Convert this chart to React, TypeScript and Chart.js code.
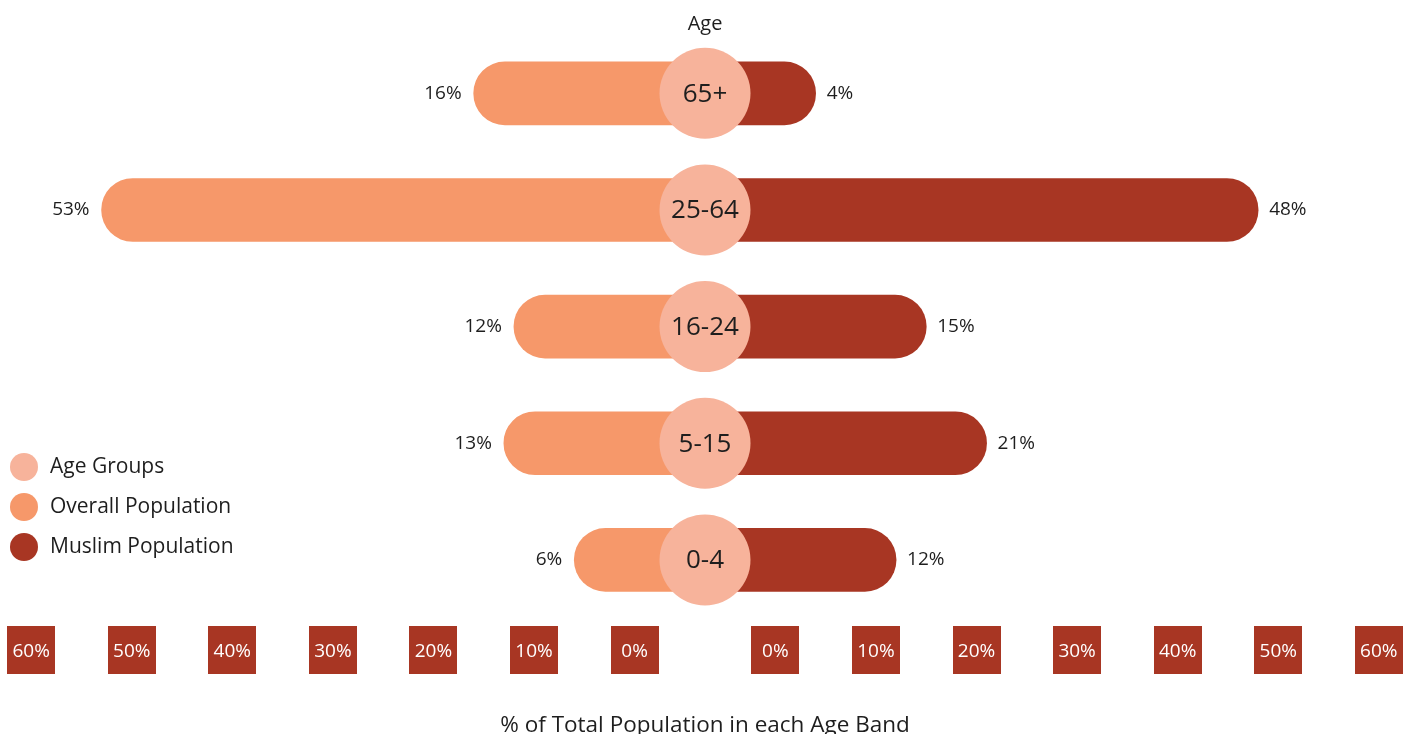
import React, { useEffect, useRef } from 'react';
import { Chart, registerables } from 'chart.js';

Chart.register(...registerables);

const categories = ['65+', '25-64', '16-24', '5-15', '0-4'];
const overallPopulation = [16, 53, 12, 13, 6];
const muslimPopulation = [4, 48, 15, 21, 12];
const tickPercents = [0, 10, 20, 30, 40, 50, 60];
const legendLabels = ['Age Groups', 'Overall Population', 'Muslim Population'];
const axisTitle = '% of Total Population in each Age Band';
const topTitle = 'Age';

const CENTER_GAP = 7;
const COLORS = {
  age: '#F7B39B',
  overall: '#F6986A',
  muslim: '#A83623',
  text: '#1e1e1e',
};
const FONT = "'Open Sans', sans-serif";

const decorPlugin = {
  id: 'decor',
  beforeDraw(chart: any) {
    const { ctx, chartArea } = chart;
    const x = chart.scales.x;
    ctx.save();
    ctx.fillStyle = COLORS.muslim;
    x.ticks.forEach((t: any) => {
      const px = x.getPixelForValue(t.value);
      ctx.fillRect(Math.round(px - 24), Math.round(chartArea.bottom + 8), 48, 48);
    });
    ctx.restore();
  },
  afterDatasetsDraw(chart: any) {
    const { ctx } = chart;
    const x = chart.scales.x;
    const y = chart.scales.y;
    ctx.save();
    ctx.textBaseline = 'middle';
    const overallMeta = chart.getDatasetMeta(0);
    const muslimMeta = chart.getDatasetMeta(1);
    ctx.font = `19px ${FONT}`;
    ctx.fillStyle = COLORS.text;
    overallMeta.data.forEach((el: any, i: number) => {
      ctx.textAlign = 'right';
      ctx.fillText(overallPopulation[i] + '%', el.x - 12, el.y);
    });
    muslimMeta.data.forEach((el: any, i: number) => {
      ctx.textAlign = 'left';
      ctx.fillText(muslimPopulation[i] + '%', el.x + 11, el.y);
    });
    const cx = x.getPixelForValue(0);
    categories.forEach((c, i) => {
      const cy = y.getPixelForValue(i);
      ctx.beginPath();
      ctx.arc(cx, cy, 45.5, 0, Math.PI * 2);
      ctx.fillStyle = COLORS.age;
      ctx.fill();
      ctx.fillStyle = COLORS.text;
      ctx.font = `26px ${FONT}`;
      ctx.textAlign = 'center';
      ctx.fillText(c, cx, cy + 1);
    });
    ctx.restore();
  },
  afterDraw(chart: any) {
    const { ctx } = chart;
    const colors = [COLORS.age, COLORS.overall, COLORS.muslim];
    ctx.save();
    ctx.font = `21px ${FONT}`;
    ctx.textBaseline = 'middle';
    ctx.textAlign = 'left';
    legendLabels.forEach((label, i) => {
      const cy = 467 + i * 40;
      ctx.beginPath();
      ctx.arc(24, cy, 14, 0, Math.PI * 2);
      ctx.fillStyle = colors[i];
      ctx.fill();
      ctx.fillStyle = COLORS.text;
      ctx.fillText(label, 50, cy);
    });
    ctx.restore();
  },
};

export default function App() {
  const ref = useRef<HTMLCanvasElement | null>(null);

  useEffect(() => {
    if (!ref.current) return;
    const chart = new Chart(ref.current, {
      type: 'bar',
      data: {
        labels: categories,
        datasets: [
          {
            label: legendLabels[1],
            data: overallPopulation.map((v) => -(v + CENTER_GAP)),
            backgroundColor: COLORS.overall,
            barThickness: 63,
            borderRadius: 32,
            borderSkipped: 'start',
            grouped: false,
          } as any,
          {
            label: legendLabels[2],
            data: muslimPopulation.map((v) => v + CENTER_GAP),
            backgroundColor: COLORS.muslim,
            barThickness: 63,
            borderRadius: 32,
            borderSkipped: 'start',
            grouped: false,
          } as any,
        ],
      },
      options: {
        indexAxis: 'y',
        responsive: false,
        animation: false,
        events: [],
        layout: { padding: { left: 1, right: 1, top: 0, bottom: 0 } },
        plugins: {
          legend: { display: false },
          tooltip: { enabled: false },
          title: {
            display: true,
            text: topTitle,
            color: COLORS.text,
            font: { family: FONT, size: 20, weight: 'normal' },
            padding: { top: 12, bottom: -1 },
          },
        },
        scales: {
          x: {
            type: 'linear',
            min: -70,
            max: 70,
            grid: {
              display: true,
              drawOnChartArea: false,
              drawTicks: true,
              tickLength: 22,
              color: 'rgba(0,0,0,0)',
            },
            border: { display: false },
            afterBuildTicks: (scale: any) => {
              const neg = tickPercents.slice().reverse().map((p) => ({ value: -(p + CENTER_GAP) }));
              const pos = tickPercents.map((p) => ({ value: p + CENTER_GAP }));
              scale.ticks = [...neg, ...pos];
            },
            ticks: {
              autoSkip: false,
              maxRotation: 0,
              padding: 0,
              color: '#ffffff',
              font: { family: FONT, size: 19 },
              callback: (v: any) => Math.abs(Number(v)) - CENTER_GAP + '%',
            },
            title: {
              display: true,
              text: axisTitle,
              color: COLORS.text,
              font: { family: FONT, size: 22.5, weight: 'normal' },
              padding: { top: 49, bottom: -5 },
            },
          },
          y: {
            type: 'category',
            offset: true,
            display: false,
            grid: { display: false },
          },
        },
      } as any,
      plugins: [decorPlugin],
    });
    return () => chart.destroy();
  }, []);

  return (
    <div style={{ position: 'fixed', left: 0, top: 0, width: 1410, height: 734, background: '#fff' }}>
      <canvas ref={ref} width={1410} height={734} style={{ display: 'block' }} />
    </div>
  );
}
